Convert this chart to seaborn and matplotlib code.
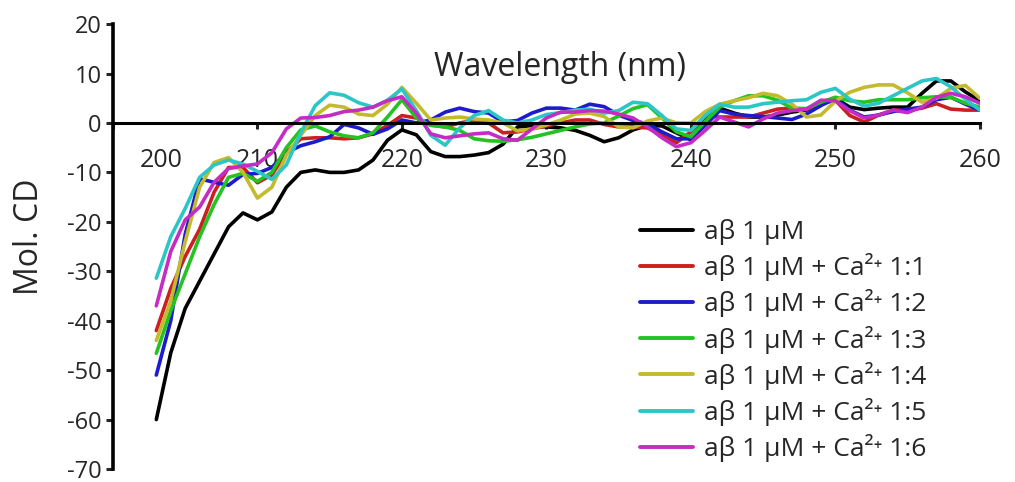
import matplotlib
matplotlib.use("Agg")
import matplotlib.pyplot as plt
import matplotlib.transforms as mtransforms
import pandas as pd
import seaborn as sns

# wavelength grid (nm) and Mol. CD
wavelength = list(range(203, 261))

ab_only = [-60, -46.5, -37.5, -32, -26.5, -21, -18.2, -19.6, -18, -13,
           -10, -9.5, -10, -10, -9.5, -7.5, -3.5, -1.4, -2.4, -5.8,
           -6.8, -6.8, -6.5, -6, -4.3, -0.8, -0.6, -0.8, -1, -1.5,
           -2.5, -3.8, -3, -1.4, -0.5, -0.6, -2, -3.4, 1, 3,
           2, 1.2, 1.2, 1.6, 2.2, 2.6, 4, 5, 3.2, 2.7,
           3, 3.2, 3.2, 6, 8.5, 8.5, 6.3, 4.5]
ca_1_1 = [-42, -33.5, -27, -21.5, -14, -9, -9, -12.1, -10.5, -6,
          -3.2, -3, -3, -3.2, -3, -2.2, -0.5, 1.5, 1, -0.4,
          -0.8, 0, 0.5, 0, -2, -1.8, -1.2, -0.6, 0, 0.6,
          0.6, -0.3, -0.8, -0.8, -1, -2.5, -4, -1.8, 1.5, 1.2,
          1.2, 1.2, 2, 2.8, 3, 2.7, 3.8, 4.6, 1.5, 0.2,
          1.6, 2.6, 2.6, 3, 3.9, 2.8, 2.6, 2.6]
ca_1_2 = [-51, -40, -22.5, -11.3, -12, -12.6, -10.4, -10.2, -9, -6,
          -4.6, -3.8, -2.8, -0.3, -1, -2.3, -1.2, 0.6, 0, 0.6,
          2.2, 3, 2.3, 2, 0.2, 0.5, 2, 3, 3, 2.6,
          3.8, 3.3, 1.6, 0.5, -0.2, -1.8, -3.2, -3.2, -0.5, 2.5,
          1.8, 1.5, 1.3, 1, 0.7, 1.8, 3.5, 5, 2.6, 1.2,
          1.6, 2.3, 2.8, 3.2, 4.7, 5.2, 3.8, 2.6]
ca_1_3 = [-46.6, -38, -30.5, -23, -16.5, -11, -10.2, -11.8, -10, -5,
          -1.4, -0.6, -1.8, -2.6, -3, -2, 1.2, 4.7, 1, -0.5,
          -0.8, -1.5, -3.2, -3.6, -3.7, -3.4, -2.9, -2.2, -1.5, -0.8,
          -0.2, 0, 1.4, 2.9, 3.7, 1, -1.8, -2.8, 0.3, 3.2,
          4.5, 5.5, 5.5, 4.6, 3, 2.9, 4.2, 5.2, 4.5, 4.2,
          4.7, 4.7, 4.7, 5.1, 5.3, 5.2, 4, 3.2]
ca_1_4 = [-44, -36, -24, -13, -8, -7, -10, -15.2, -13, -6.5,
          -2.5, 1.5, 3.6, 3.2, 1.8, 1.5, 3.8, 7.2, 4, 0.6,
          1, 1.2, 0.8, 0.6, 0, -1.6, -1.2, -0.4, 0.6, 1.8,
          2, 1.3, -0.8, -1, 0.4, 1, 0, 0, 2.3, 3.8,
          4.5, 5.1, 6, 5.5, 3.8, 1.2, 1.6, 4.4, 6.2, 7.2,
          7.7, 7.7, 6.1, 4.2, 5, 7, 7.6, 5]
ca_1_5 = [-31.4, -23, -17.3, -11, -8.5, -7.5, -8.3, -9.8, -11.4, -8.5,
          -2, 3.5, 6.1, 5.6, 4.1, 3.2, 4.6, 6.9, 2.5, -2.5,
          -4.5, -1, 1.5, 2.5, 0.6, 0, 0.6, 1.7, 2.1, 2.6,
          2.8, 2, 2.5, 4.2, 3.9, 1.5, -1.2, -1.5, 1.5, 3.8,
          3.2, 3.2, 3.9, 4.2, 4.5, 4.7, 6.2, 7, 4.8, 3.4,
          4, 5.5, 7, 8.5, 9, 7.3, 4.8, 2.6]
ca_1_6 = [-37, -26, -19.6, -17, -12, -9.2, -8.7, -8.3, -6, -1.2,
          1, 1.1, 1.5, 2.3, 2.6, 3.2, 4.5, 5.3, 2, -2.2,
          -3, -2.6, -2.2, -2, -3.2, -3.5, -1.2, 1, 2.2, 2.2,
          2.5, 2.4, 1.8, 1, -0.8, -3, -4.8, -4, -1.5, 1.2,
          0.2, -0.8, 0.8, 2, 2.5, 2.8, 4.6, 4.5, 2.5, 1,
          1.6, 2.6, 2.1, 3.2, 5.2, 6, 5.3, 4]

series_labels = ["aβ 1 μM"] + ["aβ 1 μM + Ca²⁺ 1:%d" % k for k in range(1, 7)]
series_values = [ab_only, ca_1_1, ca_1_2, ca_1_3, ca_1_4, ca_1_5, ca_1_6]
line_colors = ["#000000", "#cc1f1f", "#1c1ccc", "#22c322",
               "#c4bb2c", "#2cc6c6", "#c42cc4"]
y_ticks = list(range(-70, 21, 10))
x_ticks = list(range(200, 261, 10))

df = pd.concat(
    [pd.DataFrame({"wavelength": wavelength, "cd": vals, "sample": lab})
     for lab, vals in zip(series_labels, series_values)],
    ignore_index=True)

sns.set_style("white")
plt.rcParams["font.family"] = ["Open Sans", "DejaVu Sans"]
plt.rcParams["axes.unicode_minus"] = False

fig = plt.figure(figsize=(10.15, 4.82), dpi=100)
ax = fig.add_axes([0.1113, 0.027, 0.854, 0.923])

sns.lineplot(data=df, x="wavelength", y="cd", hue="sample",
             hue_order=series_labels, palette=dict(zip(series_labels, line_colors)),
             linewidth=2.6, ax=ax, estimator=None, sort=False)

ax.set_xlim(200, 260)
ax.set_ylim(-70, 20)
ax.set_yticks(y_ticks)
ax.set_xticks(x_ticks)

# axes cross at zero, like the original
ax.spines["top"].set_visible(False)
ax.spines["right"].set_visible(False)
ax.spines["bottom"].set_position(("data", 0))
ax.spines["left"].set_linewidth(2.6)
ax.spines["bottom"].set_linewidth(2.2)
ax.spines["left"].set_color("black")
ax.spines["bottom"].set_color("black")

ax.tick_params(axis="y", direction="out", length=5, width=2.2,
               labelsize=17, pad=3, left=True)
ax.tick_params(axis="x", direction="out", length=4, width=2.2,
               labelsize=18, pad=14, bottom=True)

# "200" sits right of the y-axis in the original
lab200 = ax.get_xticklabels()[0]
lab200.set_transform(lab200.get_transform() +
                     mtransforms.ScaledTranslation(0.48, 0, fig.dpi_scale_trans))

ax.set_xlabel("Wavelength (nm)", fontsize=23)
ax.xaxis.set_label_coords(0.516, 0.94)
ax.xaxis.label.set_va("top")
ax.set_ylabel("Mol. CD", fontsize=23)
ax.yaxis.set_label_coords(-0.077, 0.521)

handles, labels = ax.get_legend_handles_labels()
leg = ax.legend(handles, labels, loc="upper left", bbox_to_anchor=(0.608, 0.562),
                frameon=False, fontsize=19, handlelength=2.0, handletextpad=0.42,
                labelspacing=0.31, borderpad=0, borderaxespad=0)
for line in leg.get_lines():
    line.set_linewidth(2.8)

fig.savefig("out.png", dpi=100)
